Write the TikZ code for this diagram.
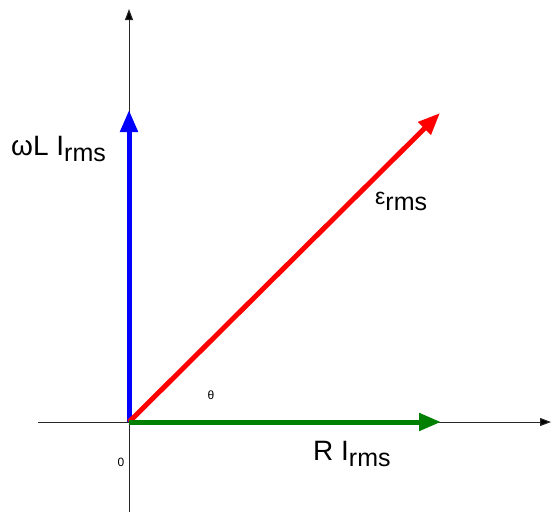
\documentclass[tikz,border=0pt]{standalone}
\usepackage{fontspec}
\setmainfont{Liberation Sans}
\usetikzlibrary{arrows.meta}
\newcommand{\sub}[1]{\raisebox{-6pt}{\fontsize{25}{27}\selectfont #1}}
\begin{document}
\begin{tikzpicture}[x=1pt,y=-1pt,
  axis/.style={line width=1pt,draw=black!85,-{Triangle[length=11pt,width=8pt,fill=black]}},
  vec/.style={line width=5pt,-{Triangle[length=22pt,width=17pt]}},
  lbl/.style={font=\fontsize{28}{30}\selectfont,inner sep=0pt,anchor=base west},
  small/.style={font=\fontsize{12}{14}\selectfont,inner sep=0pt}]
\useasboundingbox (0,0) rectangle (551,512);
\coordinate (O) at (129,422);
\coordinate (xl) at (38,422);
\coordinate (xr) at (551,422);
\coordinate (yb) at (129,512);
\coordinate (yt) at (129,9);
\coordinate (B) at (129,110);
\coordinate (Rt) at (440,113);
\coordinate (G) at (441,422);
\draw[axis] (xl) -- (xr);
\draw[axis] (yb) -- (yt);
\draw[vec,blue] (O) -- (B);
\draw[vec,red] (O) -- (Rt);
\draw[vec,green!50!black] (O) -- (G);
\node[lbl] (wl) at (11,155) {ωL I\sub{rms}};
\node[lbl] (eps) at (375,204) {\fontsize{23}{25}\selectfont ε\sub{rms}};
\node[lbl] (ri) at (313,460) {R I\sub{rms}};
\node[small] (th) at (211,395) {θ};
\node[small] (zero) at (121,462) {0};
\end{tikzpicture}
\end{document}
